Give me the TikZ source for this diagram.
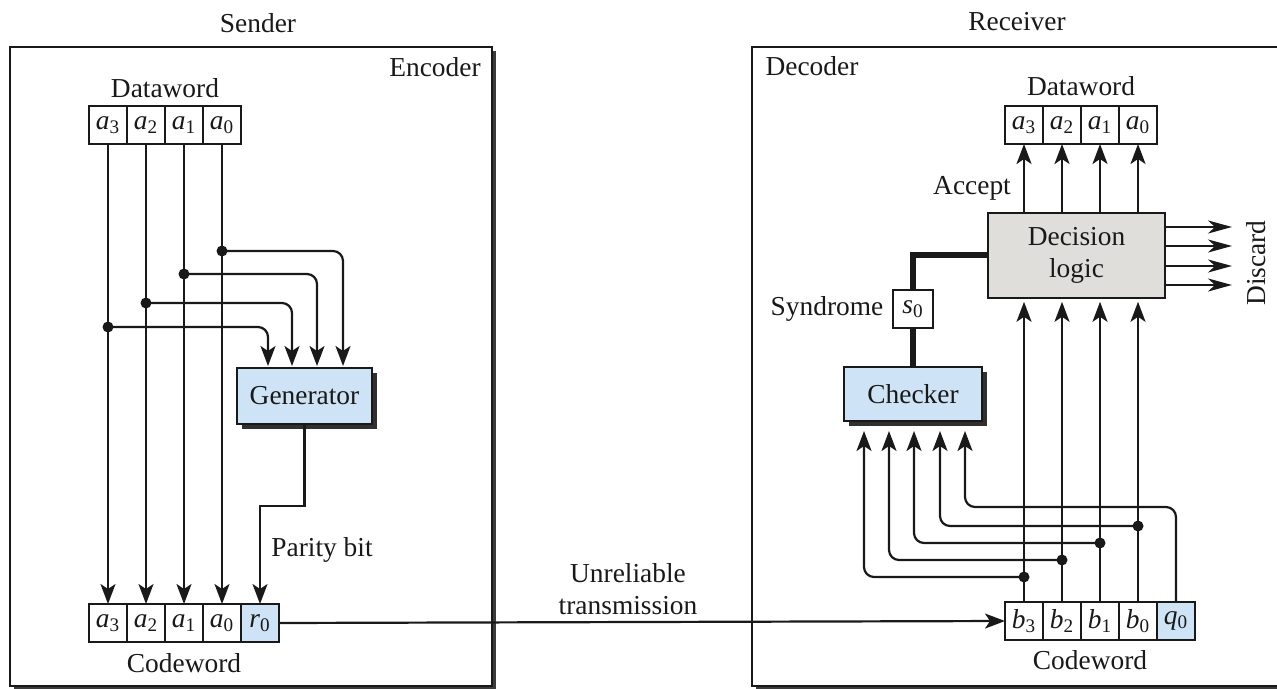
\documentclass[tikz,border=0pt]{standalone}
\usepackage{fontspec}
\setmainfont{Liberation Serif}
\usetikzlibrary{arrows.meta,shadows,calc}
\definecolor{boxblue}{RGB}{206,227,245}
\definecolor{boxgray}{RGB}{224,222,218}
\definecolor{ink}{RGB}{25,25,25}
\newcommand\bitl[2]{\textit{#1}\textsubscript{#2}}
\begin{document}
\begin{tikzpicture}[x=0.5pt,y=-0.5pt,
  every node/.style={font=\fontsize{13.7}{16}\selectfont, text=ink},
  cell/.style={draw=ink, line width=0.8pt, minimum width=19pt, minimum height=19pt, inner sep=0pt, outer sep=0pt},
  bluecell/.style={cell, fill=boxblue},
  wire/.style={draw=ink, line width=1.1pt},
  arr/.style={wire, -{Stealth[length=10pt,width=7.5pt,inset=2.5pt]}},
  darr/.style={wire, -{Stealth[length=12pt,width=6.5pt,inset=3.5pt]}},
  thick wire/.style={draw=ink, line width=3pt},
  tap/.style={circle, fill=ink, inner sep=0pt, minimum size=5.5pt},
  unit/.style={draw=ink, line width=0.8pt, fill=boxblue, inner sep=0pt,
    drop shadow={shadow xshift=2.5pt, shadow yshift=-2.5pt, fill=ink!90!white, opacity=1}},
  lbl/.style={inner sep=0pt}
]
\useasboundingbox (0,0) rectangle (1277,689);
\fill[white] (0,0) rectangle (1277,689);

% frames
\fill[ink!85] (14,51) rectangle (496,690);
\draw[ink, line width=0.9pt, fill=white] (10,47) rectangle (492,686);
\fill[ink!85] (756,686) rectangle (1280,690);
\draw[ink, line width=0.9pt] (1280,47) -- (752,47) -- (752,686) -- (1280,686);

% titles
\node[lbl] (sender) at (258,23) {Sender};
\node[lbl] (receiver) at (1017,22) {Receiver};
\node[lbl] (encoder) at (435,67) {Encoder};
\node[lbl] (decoder) at (812,66) {Decoder};

% ---------------- Encoder ----------------
\node[lbl] (dwl) at (165,88) {Dataword};
\node[cell] (da3) at (108,125) {\bitl{a}{3}};
\node[cell] (da2) at (146,125) {\bitl{a}{2}};
\node[cell] (da1) at (184,125) {\bitl{a}{1}};
\node[cell] (da0) at (222,125) {\bitl{a}{0}};

\node[cell] (ca3) at (108,623) {\bitl{a}{3}};
\node[cell] (ca2) at (146,623) {\bitl{a}{2}};
\node[cell] (ca1) at (184,623) {\bitl{a}{1}};
\node[cell] (ca0) at (222,623) {\bitl{a}{0}};
\node[bluecell] (cr0) at (260,623) {\bitl{r}{0}};
\node[lbl] (cwl) at (184,663) {Codeword};

\node[unit, minimum width=67.5pt, minimum height=28pt] (gen) at (304.5,396) {Generator};

\foreach \c in {3,2,1,0} \draw[arr] (da\c.south) -- (ca\c.north);

\coordinate (t0) at (222,251);
\coordinate (t1) at (184,274);
\coordinate (t2) at (146,303);
\coordinate (t3) at (108,327);
\coordinate (g0) at (343,366);
\coordinate (g1) at (317,366);
\coordinate (g2) at (292,366);
\coordinate (g3) at (268,366);
\foreach \c in {0,1,2,3} {
  \draw[arr, rounded corners=5pt] (t\c) -| (g\c);
  \node[tap] (dot\c) at (t\c) {};
}

\draw[arr] (gen.south) -- ++(0,81) -| (cr0.north);
\node[lbl] (pb) at (322,550) {Parity bit};

% ---------------- Channel ----------------
\node[cell] (rb3) at (1024,621) {\bitl{b}{3}};
\node[cell] (rb2) at (1062,621) {\bitl{b}{2}};
\node[cell] (rb1) at (1100,621) {\bitl{b}{1}};
\node[cell] (rb0) at (1138,621) {\bitl{b}{0}};
\node[bluecell] (rq0) at (1176,621) {\bitl{q}{0}};
\node[lbl] (rcwl) at (1090,660) {Codeword};

\draw[arr] (cr0.east) -- (rb3.west);
\node[lbl, align=center] (ut) at (628,589) {Unreliable\\transmission};

% ---------------- Decoder ----------------
\node[lbl] (rdwl) at (1081,86) {Dataword};
\node[cell] (ra3) at (1024,125) {\bitl{a}{3}};
\node[cell] (ra2) at (1062,125) {\bitl{a}{2}};
\node[cell] (ra1) at (1100,125) {\bitl{a}{1}};
\node[cell] (ra0) at (1138,125) {\bitl{a}{0}};

\node[draw=ink, line width=0.8pt, fill=boxgray, minimum width=88.5pt, minimum height=42.5pt,
      align=center, inner sep=0pt] (dec) at (1076.5,255.5) {Decision\\logic};

\node[lbl] (acc) at (972,188) {Accept};
\foreach \c in {3,2,1,0} {
  \draw[arr] (ra\c |- dec.north) -- (ra\c.south);
  \draw[arr] (rb\c.north) -- ($(rb\c |- dec.south)+(0,3)$);
}

\coordinate (x1) at (1232,227);
\coordinate (x2) at (1232,246);
\coordinate (x3) at (1232,266);
\coordinate (x4) at (1232,285);
\foreach \k in {1,2,3,4} \draw[darr] (dec.east |- x\k) -- (x\k);
\node[lbl, rotate=90] (disc) at (1256,263) {Discard};

\node[cell, minimum width=20pt] (s0) at (913,309) {\bitl{s}{0}};
\node[lbl] (syn) at (827,309) {Syndrome};
\node[unit, minimum width=69pt, minimum height=27pt] (chk) at (913,394) {Checker};

\draw[thick wire] (chk.north) -- (s0.south);
\draw[thick wire] (s0.north) |- (dec.west);

\coordinate (k3) at (864,431);
\coordinate (k2) at (889,431);
\coordinate (k1) at (914,431);
\coordinate (k0) at (940,431);
\coordinate (kq) at (965,431);
\coordinate (u3) at (1024,577);
\coordinate (u2) at (1062,560);
\coordinate (u1) at (1100,543);
\coordinate (u0) at (1138,526);
\coordinate (qt) at (965,507);
\foreach \c in {3,2,1,0} {
  \draw[arr, rounded corners=5pt] (u\c) -| (k\c);
  \node[tap] (rdot\c) at (u\c) {};
}
\draw[arr, rounded corners=5pt] (rq0.north) |- (qt) -- (kq);
\end{tikzpicture}
\end{document}
